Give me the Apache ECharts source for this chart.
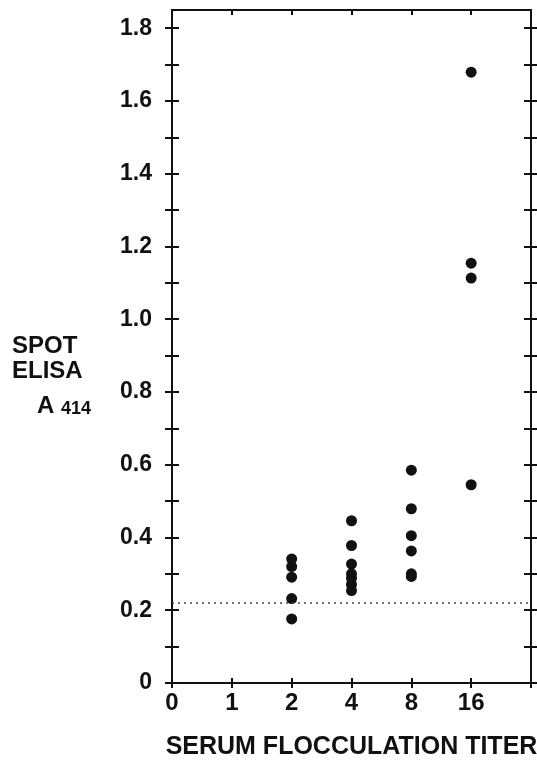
<!DOCTYPE html>
<html>
<head>
<meta charset="utf-8">
<style>
  html, body { margin: 0; padding: 0; background: #fff; }
  #chart { width: 537px; height: 763px; }
</style>
<script src="https://cdn.jsdelivr.net/npm/echarts@6/dist/echarts.min.js"></script>
</head>
<body>
<div id="chart"></div>
<script>
// titer categories (equally spaced on the x axis)
var titers = ['0', '1', '2', '4', '8', '16']
var xTicks = [0, 1, 2, 3, 4, 5, 6]
var yTicks = [0, 0.1, 0.2, 0.3, 0.4, 0.5, 0.6, 0.7, 0.8, 0.9, 1.0, 1.1, 1.2, 1.3, 1.4, 1.5, 1.6, 1.7, 1.8]
var yLabels = [0, 0.2, 0.4, 0.6, 0.8, 1.0, 1.2, 1.4, 1.6, 1.8]

// spot ELISA A414 values by titer
var titer2 = [0.341, 0.320, 0.291, 0.232, 0.176]
var titer4 = [0.446, 0.378, 0.327, 0.300, 0.288, 0.271, 0.254]
var titer8 = [0.585, 0.479, 0.405, 0.363, 0.300, 0.293]
var titer16 = [1.679, 1.154, 1.113, 0.545]
var cutoff = 0.224

var groups = [['2', titer2], ['4', titer4], ['8', titer8], ['16', titer16]]
var points = []
groups.forEach(function (g) {
  var xi = titers.indexOf(g[0])
  g[1].forEach(function (v) { points.push([xi, v]) })
})

var font = 'Liberation Sans, Arial, sans-serif'
var black = '#111'
var gridRect = { left: 172, right: 6, top: 10, bottom: 80, outerBoundsMode: 'none', containLabel: false }

function xAx(gridIndex, pos, inside, len, labels) {
  return {
    type: 'value', gridIndex: gridIndex, position: pos, min: 0, max: 6,
    axisLine: { show: true, onZero: false, lineStyle: { color: black, width: 2 } },
    axisTick: { show: true, inside: inside, length: len, customValues: xTicks, lineStyle: { color: black, width: 2 } },
    axisLabel: labels ? {
      show: true, customValues: [0, 1, 2, 3, 4, 5], margin: 8,
      color: black, fontFamily: font, fontWeight: 'bold', fontSize: 24,
      formatter: function (v) { return titers[v] || '' }
    } : { show: false },
    splitLine: { show: false },
    name: labels ? 'SERUM FLOCCULATION TITER' : '',
    nameLocation: 'middle', nameGap: 52,
    nameTextStyle: { color: black, fontFamily: font, fontWeight: 'bold', fontSize: 25 }
  }
}

function yAx(gridIndex, pos, inside, labels) {
  return {
    type: 'value', gridIndex: gridIndex, position: pos, min: 0, max: 1.85,
    axisLine: { show: true, onZero: false, lineStyle: { color: black, width: 2 } },
    axisTick: { show: true, inside: inside, length: 7, customValues: yTicks, lineStyle: { color: black, width: 2 } },
    axisLabel: labels ? {
      show: true, customValues: yLabels, margin: 20,
      color: black, fontFamily: font, fontWeight: 'bold', fontSize: 23,
      formatter: function (v) { return v === 0 ? '0' : v.toFixed(1) }
    } : { show: false },
    splitLine: { show: false }
  }
}

var chart = echarts.init(document.getElementById('chart'))
chart.setOption({
  backgroundColor: '#fff',
  animation: false,
  grid: [
    Object.assign({}, gridRect),
    Object.assign({}, gridRect)
  ],
  xAxis: [
    xAx(0, 'bottom', false, 5, true),
    xAx(0, 'top', true, 5, false),
    xAx(1, 'bottom', true, 5, false)
  ],
  yAxis: [
    yAx(0, 'left', false, true),
    yAx(0, 'right', false, false),
    yAx(1, 'left', true, false),
    yAx(1, 'right', true, false)
  ],
  graphic: [
    { type: 'text', left: 12, top: 334, style: { text: 'SPOT', fill: black, font: 'bold 24px ' + font } },
    { type: 'text', left: 12, top: 359, style: { text: 'ELISA', fill: black, font: 'bold 24px ' + font } },
    { type: 'text', left: 37, top: 394, style: { text: 'A', fill: black, font: 'bold 24px ' + font } },
    { type: 'text', left: 61, top: 400, style: { text: '414', fill: black, font: 'bold 18px ' + font } }
  ],
  series: [{
    type: 'scatter',
    xAxisIndex: 0,
    yAxisIndex: 0,
    symbol: 'circle',
    symbolSize: 11,
    itemStyle: { color: black, opacity: 1 },
    data: points,
    markLine: {
      silent: true,
      symbol: 'none',
      label: { show: false },
      lineStyle: { color: '#444', type: [2, 4], width: 1.5 },
      data: [{ yAxis: cutoff }]
    }
  }]
})
</script>
</body>
</html>
